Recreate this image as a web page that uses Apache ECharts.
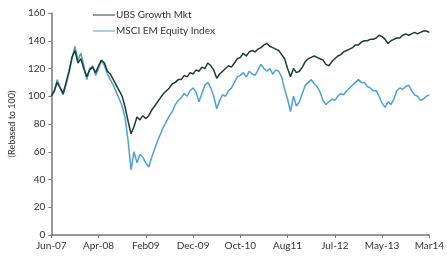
<!DOCTYPE html>
<html>
<head>
<meta charset="utf-8">
<script src="https://cdn.jsdelivr.net/npm/echarts@6/dist/echarts.min.js"></script>
<style>
  html, body { margin: 0; padding: 0; background: #fff; }
  #chart { width: 447px; height: 258px; }
</style>
</head>
<body>
<div id="chart"></div>
<script>
// x axis labels, one every 16 points
var tickLabels = ['Jun-07', 'Apr-08', 'Feb09', 'Dec-09', 'Oct-10', 'Aug11', 'Jul-12', 'May-13', 'Mar14'];
var step = 16;

var ubsGrowth = [
  100, 104, 110, 106, 102, 110, 118, 128, 133, 124, 127, 120, 114, 119, 121, 117,
  122, 126, 124, 118, 116, 112, 108, 104, 100, 92, 82, 73, 78, 85, 83, 86,
  84, 86, 90, 93, 96, 99, 102, 104, 106, 109, 110, 112, 112, 115, 114, 117,
  116, 119, 118, 121, 120, 124, 122, 119, 113, 116, 118, 120, 122, 121, 124, 127,
  128, 131, 129, 132, 133, 132, 134, 135, 137, 138, 136, 135, 134, 133, 130, 127,
  120, 114, 120, 117, 118, 121, 125, 127, 128, 129, 128, 127, 126, 123, 122, 125,
  127, 129, 130, 132, 133, 134, 135, 137, 137, 139, 140, 140, 141, 141, 142, 144,
  143, 141, 138, 140, 141, 142, 142, 144, 145, 144, 145, 146, 145, 146, 147, 147,
  146
];

var msciEm = [
  100, 103, 112, 106, 101, 108, 117, 127, 136, 126, 131, 122, 112, 120, 122, 115,
  120, 126, 122, 116, 112, 108, 103, 98, 93, 84, 68, 47, 60, 52, 58, 56,
  52, 49, 56, 62, 68, 73, 78, 82, 86, 89, 94, 97, 99, 102, 100, 104,
  106, 103, 96, 102, 108, 110, 106, 100, 91, 97, 101, 100, 104, 106, 110, 114,
  115, 117, 114, 118, 116, 115, 119, 123, 120, 118, 120, 116, 119, 118, 114, 105,
  98, 89, 100, 93, 96, 102, 108, 110, 112, 109, 107, 103, 97, 94, 96, 98,
  97, 100, 102, 101, 104, 106, 108, 110, 112, 110, 110, 107, 106, 104, 104, 100,
  95, 92, 96, 94, 98, 104, 106, 105, 107, 108, 104, 101, 100, 97, 98, 100,
  101
];

var categories = ubsGrowth.map(function (v, i) { return i; });

var chart = echarts.init(document.getElementById('chart'));
var font = 'Lato, "Open Sans", sans-serif';

var option = {
    animation: false,
    textStyle: { fontFamily: font },
    legend: {
        orient: 'vertical',
        left: 88,
        top: 5,
        itemGap: 6,
        itemWidth: 22,
        itemHeight: 8,
        icon: 'path://M0,3.5L22,3.5L22,4.5L0,4.5Z',
        textStyle: { fontSize: 10, color: '#333', fontFamily: font, padding: [0, 0, 0, -4] },
        data: ['UBS Growth Mkt', 'MSCI EM Equity Index']
    },
    grid: { left: 49, right: 17, top: 13, bottom: 23 },
    xAxis: {
        type: 'category',
        data: categories,
        boundaryGap: false,
        axisLine: { lineStyle: { color: '#777', width: 1.5 } },
        axisTick: { interval: step - 1, length: 3, lineStyle: { color: '#777' } },
        axisLabel: {
            interval: step - 1,
            fontSize: 10,
            color: '#333',
            margin: 6,
            formatter: function (v, i) { return tickLabels[Math.round(i / step)] || ''; }
        },
        splitLine: { show: false }
    },
    yAxis: {
        type: 'value',
        min: 0,
        max: 160,
        interval: 20,
        name: '(Rebased to 100)',
        nameLocation: 'middle',
        nameGap: 32,
        nameTextStyle: { fontSize: 9, color: '#333' },
        axisLine: { show: true, lineStyle: { color: '#777', width: 1.5 } },
        axisTick: { show: true, length: 3, lineStyle: { color: '#777' } },
        axisLabel: { fontSize: 10, color: '#333', margin: 6 },
        splitLine: { show: false }
    },
    series: [
        {
            name: 'UBS Growth Mkt',
            type: 'line',
            data: ubsGrowth,
            symbol: 'none',
            lineStyle: { color: '#1e3d2c', width: 1.5 },
            itemStyle: { color: '#1e3d2c' },
            z: 3
        },
        {
            name: 'MSCI EM Equity Index',
            type: 'line',
            data: msciEm,
            symbol: 'none',
            lineStyle: { color: '#4aa3d6', width: 1.5 },
            itemStyle: { color: '#4aa3d6' },
            z: 2
        }
    ]
};

chart.setOption(option);
</script>
</body>
</html>
